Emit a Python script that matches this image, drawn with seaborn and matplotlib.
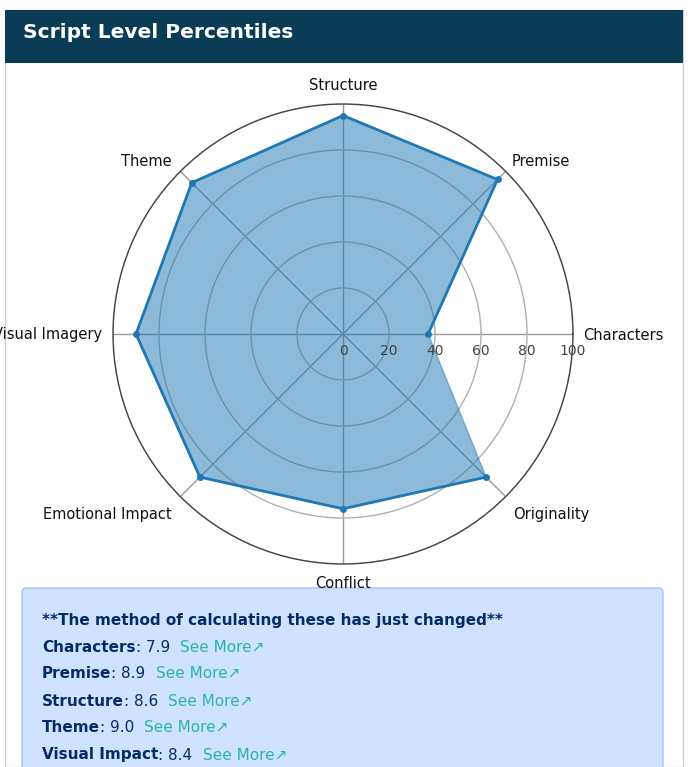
import numpy as np
import matplotlib
matplotlib.use("Agg")
import matplotlib.pyplot as plt
import seaborn as sns
from matplotlib.patches import Rectangle, FancyBboxPatch

categories = ["Characters", "Premise", "Structure", "Theme", "Visual Imagery",
              "Emotional Impact", "Conflict", "Originality"]
percentiles = [37, 95, 95, 93, 90, 88, 76, 88]
score_names = ["Characters", "Premise", "Structure", "Theme", "Visual Impact"]
score_values = [7.9, 8.9, 8.6, 9.0, 8.4]

W, H = 692, 767
sns.set_theme(style="white")
fig = plt.figure(figsize=(W / 100, H / 100), dpi=100)
fig.patch.set_facecolor("white")

# card + header
fig.add_artist(Rectangle((5 / W, 0), 678 / W, 1 - 10 / H, transform=fig.transFigure,
                         facecolor="white", edgecolor="#d0d0d0", lw=1, zorder=-5))
fig.add_artist(Rectangle((5 / W, 1 - 63 / H), 678 / W, 53 / H, transform=fig.transFigure,
                         facecolor="#0b3c56", edgecolor="none", zorder=-4))
fig.text(23 / W, 1 - 33 / H, "Script Level Percentiles", color="white", fontsize=14.5,
         fontweight="semibold", va="center", family="DejaVu Sans")

# radar
cx, cy, R = 343, 334, 230
ax = fig.add_axes([(cx - R) / W, 1 - (cy + R) / H, 2 * R / W, 2 * R / H], projection="polar")
theta = np.deg2rad(np.arange(len(categories)) * 45)
t_closed = np.append(theta, theta[0])
r_closed = np.append(percentiles, percentiles[0])
ax.fill(t_closed, r_closed, color="#1f77b4", alpha=0.5, zorder=2)
sns.lineplot(x=t_closed, y=r_closed, ax=ax, sort=False, color="#1f77b4", lw=2,
             marker="o", markersize=5, markeredgewidth=0, zorder=3)
ax.set_ylim(0, 100)
ax.set_yticks([20, 40, 60, 80, 100])
ax.set_yticklabels([])
ax.yaxis.grid(True, color="#b0b0b0", lw=1)
ax.set_xticks(theta)
ax.set_xticklabels([])
ax.xaxis.grid(True, color="#999999", lw=1)
ax.spines["polar"].set_color("#444444")
ax.spines["polar"].set_linewidth(1)
ax.set_facecolor("none")
ax.set_xlabel("")
ax.set_ylabel("")
for r in [0, 20, 40, 60, 80, 100]:
    ax.text(0, r, str(r), ha="center", va="top", fontsize=10, color="#444444",
            transform=ax.transData + matplotlib.transforms.ScaledTranslation(0, -0.1, fig.dpi_scale_trans))
label_pos = {"Characters": (583, 335, "left"), "Premise": (512, 161, "left"),
             "Structure": (343, 86, "center"), "Theme": (172, 161, "right"),
             "Visual Imagery": (102, 335, "right"), "Emotional Impact": (172, 514, "right"),
             "Conflict": (343, 584, "center"), "Originality": (513, 515, "left")}
for name in categories:
    x, y, ha = label_pos[name]
    fig.text(x / W, 1 - y / H, name, ha=ha, va="center", fontsize=10.5, color="#111111")

# info box
fig.add_artist(FancyBboxPatch((22 / W, -0.01), 641 / W, (H - 588) / H + 0.01, transform=fig.transFigure,
                              boxstyle="round,pad=0,rounding_size=0.006",
                              facecolor="#cfe2ff", edgecolor="#9ec5fe", lw=1, zorder=1))
navy = "#052c65"
teal = "#2bb5a0"
fs = 11
fig.text(42 / W, 1 - 621 / H, "**The method of calculating these has just changed**",
         color=navy, fontsize=fs, fontweight="bold", va="center", zorder=2)
fig.canvas.draw()
rend = fig.canvas.get_renderer()
for i, (n, v) in enumerate(zip(score_names, score_values)):
    y = 1 - (647 + 27 * i) / H
    t1 = fig.text(42 / W, y, n, color=navy, fontsize=fs, fontweight="bold", va="center", zorder=2)
    x1 = t1.get_window_extent(rend).x1
    t2 = fig.text(x1 / W, y, f": {v:.1f}", color=navy, fontsize=fs, va="center", zorder=2)
    x2 = t2.get_window_extent(rend).x1
    fig.text((x2 + 10) / W, y, "See More\u2197", color=teal, fontsize=fs, va="center", zorder=2)

fig.savefig("out.png", dpi=100)
